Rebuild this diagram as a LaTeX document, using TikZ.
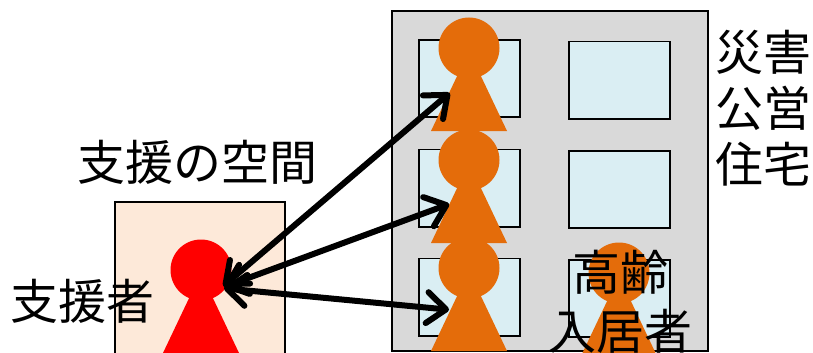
\documentclass[tikz,border=0pt]{standalone}
\usepackage{fontspec}
\setmainfont{Noto Sans CJK JP}
\usetikzlibrary{arrows.meta}
\definecolor{wallgray}{HTML}{D9D9D9}
\definecolor{winblue}{HTML}{DAEEF3}
\definecolor{skin}{HTML}{FDE9D9}
\definecolor{orangep}{HTML}{E46C0A}
\tikzset{
  x=1pt,y=-1pt,
  framebox/.style={draw=black,line width=1.6pt},
  windowbox/.style={framebox,fill=winblue},
  personhead/.style={circle,minimum size=61pt,inner sep=0pt,outer sep=0pt,fill=#1},
  label/.style={font=\fontsize{48}{56}\selectfont,text=black,inner sep=0pt,align=center},
  link/.style={line width=6pt,shorten <=3pt,shorten >=3pt,{Straight Barb[length=19pt,width=31pt,line cap=round,line join=round]}-{Straight Barb[length=19pt,width=31pt,line cap=round,line join=round]}}
}
\newcommand{\personbody}[3]{\fill[#3] (#1,#2+3) -- (#1-38,#2+83) -- (#1+38,#2+83) -- cycle;}
\begin{document}
\begin{tikzpicture}
\useasboundingbox (0,0) rectangle (813,353);
\clip (0,0) rectangle (813,353);
\fill[white] (0,0) rectangle (813,353);
% spaces
\draw[framebox,fill=wallgray] (392,11) rectangle (708,351);
\draw[framebox,fill=skin] (115,202) rectangle (285,360);
% windows
\draw[windowbox] (419,40) rectangle (520,117);
\draw[windowbox] (419,149.5) rectangle (520,227);
\draw[windowbox] (419,258.5) rectangle (520,336);
\draw[windowbox] (569,41.5) rectangle (670,119);
\draw[windowbox] (569,151) rectangle (670,228);
\draw[windowbox] (569,260) rectangle (670,337);
% persons
\personbody{469}{48}{orangep}
\node[personhead=orangep] (p1) at (469,48) {};
\personbody{469}{160}{orangep}
\node[personhead=orangep] (p2) at (469,160) {};
\personbody{469}{268}{orangep}
\node[personhead=orangep] (p3) at (469,268) {};
\personbody{619}{273}{orangep}
\node[personhead=orangep] (p4) at (619,273) {};
\personbody{201}{270}{red}
\node[personhead=red] (s) at (201,270) {};
% connector ends
\coordinate (sup) at (221,288);
\coordinate (t1) at (452,91);
\coordinate (t2) at (452,203);
\coordinate (t3) at (452,310);
\draw[link] (sup) -- (t1);
\draw[link] (sup) -- (t2);
\draw[link] (sup) -- (t3);
% labels
\node[label] (space) at (197,162) {支援の空間};
\node[label] (helper) at (82,301) {支援者};
\node[label] (l1) at (763,52) {災害};
\node[label] (l2) at (763,108) {公営};
\node[label] (l3) at (763,164) {住宅};
\node[label] (e1) at (620,272) {高齢};
\node[label] (e2) at (620,331) {入居者};
\end{tikzpicture}
\end{document}
